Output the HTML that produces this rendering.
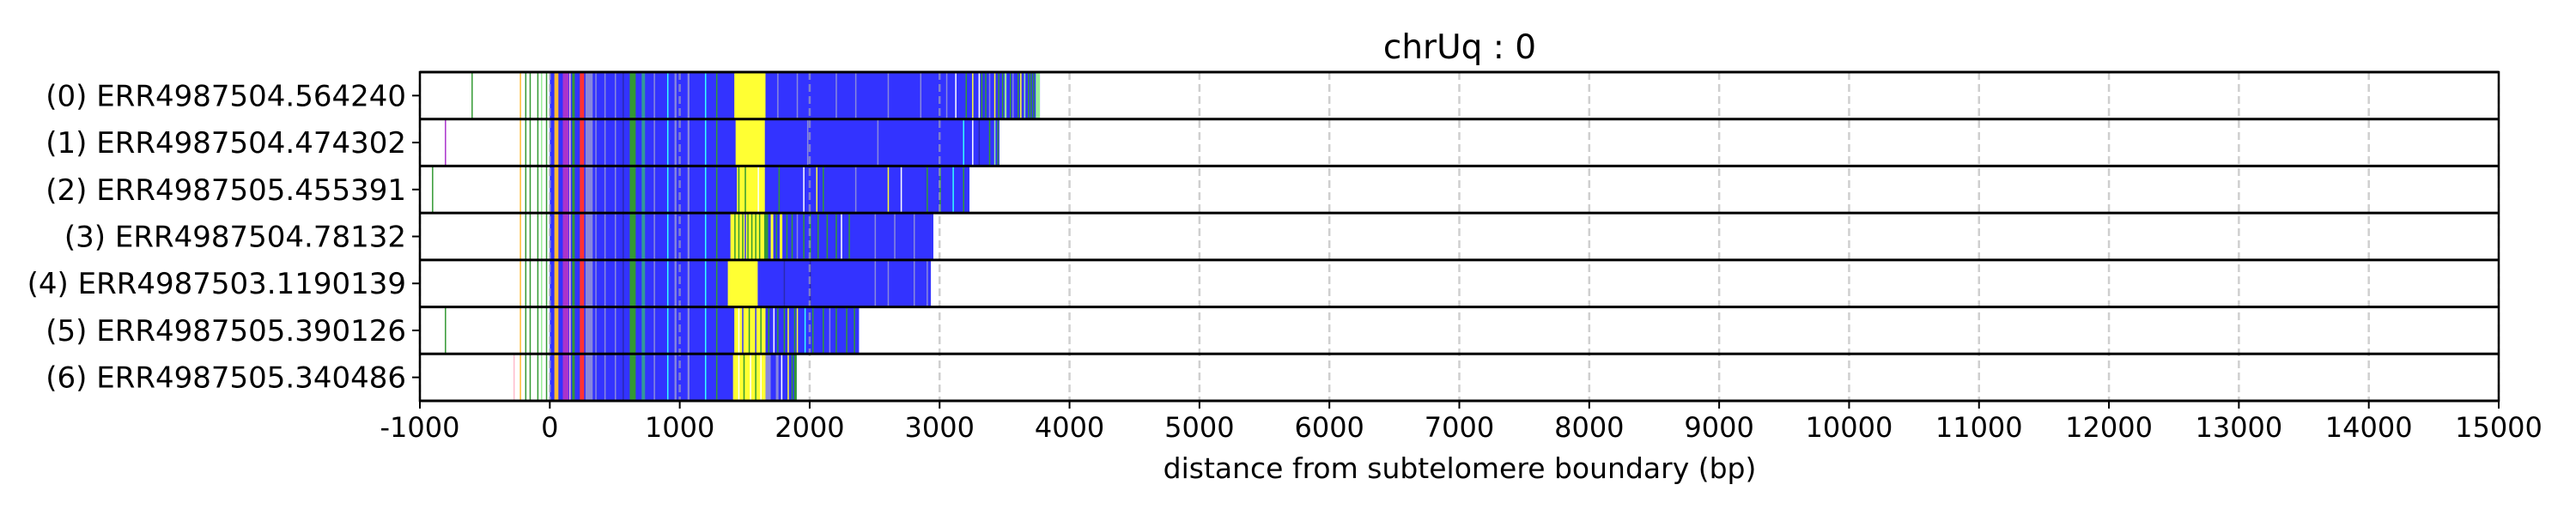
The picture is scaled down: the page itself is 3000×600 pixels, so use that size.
<!DOCTYPE html>
<html><head><meta charset="utf-8"><style>
html,body{margin:0;padding:0;background:#fff;}
svg{display:block;font-family:"DejaVu Sans","Liberation Sans",sans-serif;}
</style></head><body>
<svg id="chart" width="3000" height="600" viewBox="0 0 3000 600" xmlns="http://www.w3.org/2000/svg">
<text x="1700" y="68" font-size="39" text-anchor="middle">chrUq : 0</text>
<g id="plot"></g>
<text x="1700" y="557" font-size="33" text-anchor="middle">distance from subtelomere boundary (bp)</text>
</svg>
<script>
const rowLabels = ["(0) ERR4987504.564240","(1) ERR4987504.474302","(2) ERR4987505.455391","(3) ERR4987504.78132","(4) ERR4987503.1190139","(5) ERR4987505.390126","(6) ERR4987505.340486"];
const xTicks = [-1000,0,1000,2000,3000,4000,5000,6000,7000,8000,9000,10000,11000,12000,13000,14000,15000];
const rowEnds = [3772,3461,3230,2952,2933,2380,1900];
const yellowStarts = [1420,1430,1440,1390,1370,1420,1410];
const yellowEnds = [1660,1655,1655,1650,1600,1660,1660];
const outliers = [[-603,'g'],[-808,'p'],[-907,'g'],null,null,[-808,'g'],[-280,'k']];
const commonStripes = [[-231,-226,'o'],[-190,-185,'g'],[-156,-151,'g'],[-97,-92,'g'],[-68,-62,'lg'],[-30,-25,'g'],
 [35,66,'o'],[100,145,'p'],[150,160,'k'],[172,192,'g'],[231,264,'r'],[275,330,'l'],[350,356,'l'],[420,428,'l'],[500,505,'l'],[560,566,'d'],
 [615,661,'g'],[707,733,'t'],[800,810,'l'],[903,910,'c'],[960,975,'l'],[1060,1075,'l'],[1194,1200,'c'],[1280,1288,'g']];
const row0Stripes = [[1750,1760,'l'],[1900,1908,'l'],[2200,2210,'l'],[2350,2356,'l'],[2600,2606,'l'],[2850,2856,'l'],[3050,3056,'l'],
 [3120,3128,'w'],[3200,3206,'g'],[3250,3258,'y'],[3300,3306,'w'],[3320,3325,'g'],[3350,3356,'g'],[3380,3385,'l'],[3420,3430,'y'],[3450,3456,'g'],
 [3480,3486,'g'],[3500,3515,'lg'],[3540,3546,'g'],[3560,3566,'l'],[3600,3606,'g'],[3620,3630,'y'],[3650,3660,'lg'],[3680,3686,'g'],
 [3700,3706,'g'],[3720,3728,'g'],[3740,3772,'lg']];
const row1Stripes = [[1980,1990,'l'],[2520,2530,'l'],[3180,3186,'c'],[3250,3256,'w'],[3300,3306,'d'],[3380,3385,'g'],[3420,3425,'lg'],[3445,3450,'g']];
const row2Stripes = [[1450,1456,'g'],[1500,1506,'g'],[1600,1606,'w'],[1760,1766,'g'],[1950,1956,'w'],[2050,2056,'y'],[2100,2106,'g'],
 [2350,2356,'l'],[2600,2606,'y'],[2700,2706,'w'],[2900,2906,'g'],[3000,3008,'g'],[3100,3106,'c'],[3180,3186,'g']];
const row3Stripes = [[1420,1426,'g'],[1450,1456,'g'],[1480,1486,'g'],[1500,1506,'b'],[1520,1526,'g'],[1550,1556,'g'],[1580,1586,'g'],[1610,1616,'g'],
 [1650,1680,'g'],[1700,1720,'y'],[1740,1746,'g'],[1770,1790,'y'],[1820,1826,'g'],[1860,1866,'g'],[1900,1906,'l'],[1950,1956,'g'],[2000,2006,'g'],
 [2060,2066,'g'],[2130,2136,'g'],[2200,2206,'g'],[2240,2246,'w'],[2300,2306,'g'],[2500,2506,'l'],[2650,2656,'l'],[2800,2806,'l']];
const row4Stripes = [[1800,1806,'d'],[2000,2006,'d'],[2500,2508,'l'],[2600,2606,'l'],[2800,2806,'l'],[2900,2906,'l']];
const row5Stripes = [[1450,1456,'w'],[1480,1486,'b'],[1530,1536,'g'],[1580,1586,'b'],[1620,1626,'g'],[1680,1690,'g'],[1720,1726,'w'],[1750,1760,'g'],
 [1800,1806,'g'],[1830,1840,'y'],[1880,1886,'g'],[1900,1910,'y'],[1960,1966,'c'],[2020,2026,'g'],[2100,2106,'g'],[2150,2156,'l'],[2200,2206,'g'],[2280,2286,'g'],[2340,2346,'g']];
const row6Stripes = [[1450,1456,'w'],[1490,1496,'g'],[1540,1546,'w'],[1580,1586,'g'],[1620,1626,'w'],[1660,1700,'l'],[1720,1726,'b'],
 [1740,1760,'l'],[1780,1786,'w'],[1800,1806,'b'],[1830,1840,'y'],[1860,1866,'g'],[1880,1900,'g']];
const rowStripes = [row0Stripes,row1Stripes,row2Stripes,row3Stripes,row4Stripes,row5Stripes,row6Stripes];

const colors = {b:'#3333ff',y:'#ffff33',g:'#339933',lg:'#99ee99',l:'#8888dd',c:'#33ffff',o:'#ffbb33',p:'#aa33cc',r:'#ff3333',k:'#ffbbcc',t:'#339999',w:'#ffffff',d:'#2a2ab0'};
const X0 = 489, X1 = 2910, TOP = 84, BOT = 467;
const xMin = -1000, xMax = 15000;
const NS = 'http://www.w3.org/2000/svg';
function xs(v){ return X0 + (v - xMin) / (xMax - xMin) * (X1 - X0); }
const rowH = (BOT - TOP) / rowLabels.length;
function ys(i){ return TOP + i * rowH; }
const g = document.getElementById('plot');
function mk(tag, attrs, parent){ const e = document.createElementNS(NS, tag); for (const k in attrs) e.setAttribute(k, attrs[k]); (parent||g).appendChild(e); return e; }
function seg(i, a, b, c, name){
  const x = xs(a); const w = Math.max(xs(b) - x, 1.5);
  const r = mk('rect', {x:x, y:ys(i), width:w, height:rowH, fill:colors[c]});
  
  
}
for (let i = 0; i < rowLabels.length; i++){
  seg(i, 0, rowEnds[i], 'b', 'alignment-bar-row-' + i);
  seg(i, yellowStarts[i], yellowEnds[i], 'y', 'repeat-block-row-' + i);
  const o = outliers[i];
  if (o) seg(i, o[0], o[0] + 4, o[1], 'outlier-mark-row-' + i);
  for (const s of commonStripes){ if (s[0] < rowEnds[i]) seg(i, s[0], s[1], s[2], 'stripe-row-' + i); }
  for (const s of rowStripes[i]){ seg(i, s[0], s[1], s[2], 'stripe-row-' + i); }
}
for (const t of xTicks){
  const l = mk('line', {x1:xs(t), x2:xs(t), y1:TOP, y2:BOT, stroke:'#b0b0b0', 'stroke-width':2.5, 'stroke-dasharray':'9,5', opacity:0.6});
  
  
}
for (let i = 0; i <= rowLabels.length; i++){
  const l = mk('line', {x1:X0, x2:X1, y1:ys(i), y2:ys(i), stroke:'#000', 'stroke-width':3});
  
  
}
const fr = mk('rect', {x:X0, y:TOP, width:X1-X0, height:BOT-TOP, fill:'none', stroke:'#000', 'stroke-width':2.5});


for (let i = 0; i < rowLabels.length; i++){
  const cy = ys(i) + rowH / 2;
  const tk = mk('line', {x1:X0-9, x2:X0, y1:cy, y2:cy, stroke:'#000', 'stroke-width':2});
  
  
  const t = mk('text', {x:X0-16, y:cy+12, 'font-size':34, 'text-anchor':'end'});
  t.textContent = rowLabels[i];
  
  
}
for (const v of xTicks){
  const tk = mk('line', {x1:xs(v), x2:xs(v), y1:BOT, y2:BOT+9, stroke:'#000', 'stroke-width':2});
  
  
  const t = mk('text', {x:xs(v), y:BOT+42, 'font-size':32, 'text-anchor':'middle'});
  t.textContent = String(v);
  
  
}
</script>
</body></html>
